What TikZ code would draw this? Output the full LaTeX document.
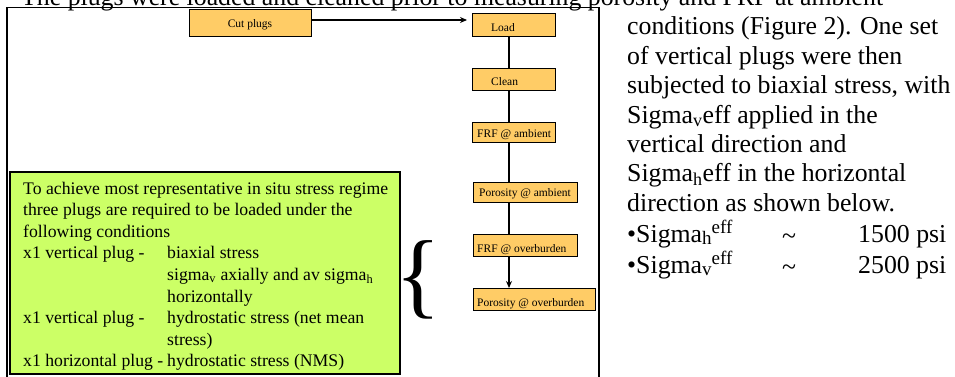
\documentclass[tikz,border=0pt]{standalone}
\usepackage{fontspec}
\setmainfont{Liberation Serif}
\usetikzlibrary{arrows.meta}
\definecolor{boxorange}{RGB}{255,204,102}
\definecolor{boxgreen}{RGB}{204,255,102}
\newcommand\sigsub[1]{\raisebox{-2pt}{\fontsize{19}{19}\selectfont #1}}
\newcommand\sigsup[1]{\raisebox{9pt}{\fontsize{19}{19}\selectfont #1}}
\begin{document}
\begin{tikzpicture}[x=1pt,y=-1pt,
  stepbox/.style={draw=black, line width=1.3pt, fill=boxorange, inner sep=0pt, anchor=north west},
  boxtext/.style={inner sep=0pt, anchor=base west, font=\fontsize{11.5}{12}\selectfont},
  flow/.style={line width=1.2pt},
  bodytext/.style={inner sep=0pt, anchor=base west, font=\fontsize{25.8}{29.4}\selectfont}]
\useasboundingbox (0,0) rectangle (955,377);
% outer frame
\draw[line width=1.5pt] (7,380) -- (7,7.5) -- (599,7.5) -- (599,380);
% intro line (cut off at top)
\node[bodytext] (intro) at (21,5.6) {The plugs were loaded and cleaned prior to measuring porosity and FRF at ambient};
% flow boxes
\node[stepbox, minimum width=122pt, minimum height=27pt] (cut) at (189,9) {};
\node[stepbox, minimum width=83pt, minimum height=23pt] (load) at (472,13) {};
\node[stepbox, minimum width=83pt, minimum height=22pt] (clean) at (472,68) {};
\node[stepbox, minimum width=83pt, minimum height=20pt] (frfa) at (472,122) {};
\node[stepbox, minimum width=104pt, minimum height=20pt] (pora) at (473,182) {};
\node[stepbox, minimum width=104pt, minimum height=22pt] (frfo) at (473,234) {};
\node[stepbox, minimum width=122pt, minimum height=22pt] (poro) at (473,288) {};
% box texts
\node[boxtext, anchor=base] (cutt) at (250,28) {Cut plugs};
\node[boxtext] (loadt) at (491,32) {Load};
\node[boxtext] (cleant) at (491,85.5) {Clean};
\node[boxtext] (frfat) at (477,137.5) {FRF @ ambient};
\node[boxtext] (porat) at (479,196.5) {Porosity @ ambient};
\node[boxtext] (frfot) at (477,252.5) {FRF @ overburden};
\node[boxtext] (porot) at (477,306.5) {Porosity @ overburden};
% connectors
\coordinate (spine) at (509,0);
\coordinate (arrowy) at (0,20);
\draw[flow, -{Stealth[length=7pt,width=6pt]}] (cut.east |- arrowy) -- ([xshift=-5pt]load.west |- arrowy);
\draw[flow] (load.south -| spine) -- (clean.north -| spine);
\draw[flow] (clean.south -| spine) -- (frfa.north -| spine);
\draw[flow] (frfa.south -| spine) -- (pora.north -| spine);
\draw[flow] (pora.south -| spine) -- (frfo.north -| spine);
\draw[flow, -{Stealth[length=7pt,width=6pt]}] (frfo.south -| spine) -- (poro.north -| spine);
% brace
\node[inner sep=0pt, anchor=base west, font=\fontsize{95}{95}\selectfont] (brace) at (395.5,306) {\{};
% conditions box
\node[draw=black, line width=1.8pt, fill=boxgreen, inner sep=0pt, anchor=north west,
      minimum width=390pt, minimum height=202pt] (cond) at (9,171) {};
\node[inner sep=0pt, anchor=base west, font=\fontsize{17.7}{21.6}\selectfont] (condtext) at (23,194) {%
\begin{tabular}[t]{@{}l@{}l@{}}
\multicolumn{2}{@{}l@{}}{To achieve most representative in situ stress regime}\\
\multicolumn{2}{@{}l@{}}{three plugs are required to be loaded under the}\\
\multicolumn{2}{@{}l@{}}{following conditions}\\
\makebox[144pt][l]{x1 vertical plug -} & biaxial stress\\
 & sigma\textsubscript{v} axially and av sigma\textsubscript{h}\\
 & horizontally\\
\makebox[144pt][l]{x1 vertical plug -} & hydrostatic stress (net mean\\
 & stress)\\
\makebox[144pt][l]{x1 horizontal plug -} & hydrostatic stress (NMS)
\end{tabular}};
% right column text
\node[bodytext] (side) at (627,35) {%
\begin{tabular}[t]{@{}l@{}}
conditions (Figure 2). One set\\
of vertical plugs were then\\
subjected to biaxial stress, with\\
Sigma\textsubscript{v}eff applied in the\\
vertical direction and\\
Sigma\textsubscript{h}eff in the horizontal\\
direction as shown below.\\
\makebox[155pt][l]{•Sigma\sigsub{h}\sigsup{eff}}\makebox[76pt][l]{\raisebox{-2pt}{\textasciitilde}}1500 psi\\
\makebox[155pt][l]{•Sigma\sigsub{v}\sigsup{eff}}\makebox[76pt][l]{\raisebox{-2pt}{\textasciitilde}}2500 psi
\end{tabular}};
\end{tikzpicture}
\end{document}
